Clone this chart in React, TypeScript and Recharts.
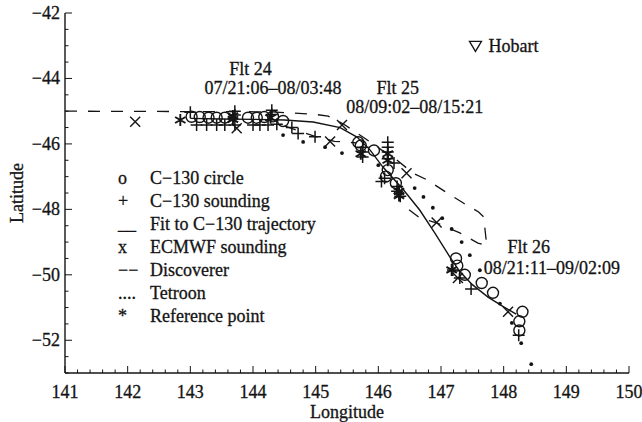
import React from 'react';
import { ComposedChart, Scatter, XAxis, YAxis } from 'recharts';

type Pt = [number, number];

// all positions are [longitude, latitude]
const c130Circles: Pt[] = [
    [143.02, -45.17], [143.15, -45.18], [143.29, -45.2], [143.42, -45.2], [143.55, -45.2],
    [143.92, -45.2], [144.06, -45.2], [144.18, -45.18], [144.32, -45.16], [144.48, -45.3],
    [145.68, -45.95], [145.72, -46.05], [145.93, -46.2], [146.15, -46.8], [146.12, -47.0], [146.28, -47.2],
    [147.24, -49.5], [147.26, -49.72], [147.38, -50.0], [147.65, -50.25], [147.83, -50.55],
    [148.3, -51.13], [148.25, -51.42], [148.25, -51.7],
];

const c130Soundings: Pt[] = [
    [143.0, -45.03], [143.1, -45.42], [143.26, -45.42], [143.42, -45.42], [143.55, -45.42],
    [143.71, -45.0], [143.71, -45.12], [143.71, -45.42], [144.0, -45.42], [144.11, -45.42],
    [144.24, -45.42], [144.38, -45.4], [144.3, -44.97], [144.3, -45.1], [144.62, -45.5],
    [144.72, -45.68], [144.99, -45.78],
    [145.75, -46.1], [145.75, -46.25], [145.75, -46.4], [146.15, -45.95], [146.15, -46.1],
    [146.15, -46.25], [146.15, -46.45], [146.25, -46.58], [146.1, -47.05], [146.05, -47.15],
    [146.3, -47.3], [146.3, -47.45], [146.35, -47.6],
    [147.19, -49.85], [147.3, -50.1], [147.48, -50.43], [148.24, -51.85],
];

const c130Fit: Pt[] = [
    [143.0, -45.22], [143.5, -45.24], [144.0, -45.25], [144.5, -45.27], [144.96, -45.33],
    [145.39, -45.5], [145.66, -45.79], [145.87, -46.19], [146.07, -46.7], [146.4, -47.4],
    [146.66, -48.02], [146.9, -48.72], [147.14, -49.45], [147.3, -49.9], [147.5, -50.3],
    [147.75, -50.68], [148.0, -50.98], [148.2, -51.2],
];

const ecmwfSoundings: Pt[] = [
    [142.12, -45.32], [143.74, -45.52], [145.42, -45.42], [145.23, -45.93],
    [146.45, -46.9], [146.93, -48.4], [147.27, -50.1], [148.07, -51.13],
];

const discovererOut: Pt[] = [
    [141.0, -45.0], [144.3, -45.02], [145.0, -45.1], [145.2, -45.15], [145.45, -45.4],
    [145.8, -45.85], [146.1, -46.25], [146.3, -46.5], [146.55, -46.89], [146.78, -47.1],
    [147.1, -47.5], [147.35, -47.8], [147.6, -48.08], [147.68, -48.23], [147.73, -49.1],
    [147.59, -49.03], [147.3, -48.72], [146.94, -48.42], [146.66, -48.26], [146.45, -47.95],
];

const discovererBack: Pt[] = [
    [144.5, -45.45], [145.0, -45.78], [145.3, -45.92], [145.65, -45.97],
];

const tetroon: Pt[] = [
    [144.48, -45.73], [144.8, -45.94], [145.15, -46.1], [145.42, -46.28], [146.0, -46.65],
    [146.58, -47.35], [146.72, -47.62], [146.87, -47.95], [147.02, -48.27], [147.17, -48.6],
    [147.33, -49.0], [147.46, -49.4], [147.62, -49.86], [147.94, -50.88], [148.13, -51.47],
    [148.28, -52.09], [148.44, -52.73],
];

const referencePoints: Pt[] = [
    [142.84, -45.27], [143.68, -45.15], [143.68, -45.25], [144.28, -45.2],
    [145.72, -46.3], [146.15, -46.3], [146.15, -46.5], [146.33, -47.45], [146.33, -47.58],
    [147.17, -49.85],
];

const hobart: Pt[] = [[147.55, -43.02]];

const flightNames = ['Flt 24', 'Flt 25', 'Flt 26'];
const flightTimes = ['07/21:06–08/03:48', '08/09:02–08/15:21', '08/21:11–09/02:09'];
const flightNameAt: Pt[] = [[143.96, -43.72], [146.31, -44.28], [148.4, -49.15]];
const flightTimeAt: Pt[] = [[144.32, -44.3], [146.58, -44.87], [148.77, -49.8]];

const lonTicks = [141, 142, 143, 144, 145, 146, 147, 148, 149, 150];
const latTicks = [-52, -50, -48, -46, -44, -42];

const legendSymbols = ['o', '+', '__', 'x', '−−', '....', '*'];
const legendLabels = [
    'C−130 circle', 'C−130 sounding', 'Fit to C−130 trajectory', 'ECMWF sounding',
    'Discoverer', 'Tetroon', 'Reference point',
];

const INK = '#141414';
const FONT = '"Liberation Serif", "Times New Roman", serif';
// slight outline so the serif text reads as heavy as the printed figure
const TEXT_STYLE = { fontFamily: FONT, fill: INK, stroke: INK, strokeWidth: 0.3 };

const rows = (pts: Pt[]) => pts.map(([lon, lat]) => ({ lon, lat }));
const labelRows = (pts: Pt[], texts: string[]) =>
    pts.map(([lon, lat], i) => ({ lon, lat, text: texts[i] }));

// minor ticks: 0.2 deg along longitude, 0.5 deg along latitude
const lonMinor: number[] = [];
for (let i = 0; i <= 45; i++) lonMinor.push(+(141 + i * 0.2).toFixed(1));
const latMinor: number[] = [];
for (let i = 0; i <= 22; i++) latMinor.push(-53 + i * 0.5);

const isMajorLon = (v: number) => lonTicks.some(t => Math.abs(t - v) < 1e-6);
const isMajorLat = (v: number) => latTicks.some(t => Math.abs(t - v) < 1e-6);
const fmt = (v: number) => (v < 0 ? '\u2212' + Math.abs(v) : String(v));

// eslint-disable-next-line @typescript-eslint/no-explicit-any
const BottomTick = ({ x, y, payload }: any) => {
    const major = isMajorLon(payload.value);
    return (
        <g>
            <line x1={x} y1={y} x2={x} y2={y - (major ? 7 : 3.5)} stroke={INK} strokeWidth={1} />
            {major && (
                <text x={x} y={y + 19} textAnchor="middle" dominantBaseline="central"
                    fontSize={18} {...TEXT_STYLE}>{payload.value}</text>
            )}
        </g>
    );
};

// eslint-disable-next-line @typescript-eslint/no-explicit-any
const TopTick = ({ x, y, payload }: any) => (
    <line x1={x} y1={y} x2={x} y2={y + (isMajorLon(payload.value) ? 7 : 3.5)} stroke={INK} strokeWidth={1} />
);

// eslint-disable-next-line @typescript-eslint/no-explicit-any
const LeftTick = ({ x, y, payload }: any) => {
    const major = isMajorLat(payload.value);
    return (
        <g>
            <line x1={x} y1={y} x2={x + (major ? 7 : 3.5)} y2={y} stroke={INK} strokeWidth={1} />
            {major && (
                <text x={x - 5} y={y} textAnchor="end" dominantBaseline="central"
                    fontSize={18} {...TEXT_STYLE}>{fmt(payload.value)}</text>
            )}
        </g>
    );
};

// eslint-disable-next-line @typescript-eslint/no-explicit-any
const RightTick = ({ x, y, payload }: any) => (
    <line x1={x} y1={y} x2={x - (isMajorLat(payload.value) ? 7 : 3.5)} y2={y} stroke={INK} strokeWidth={1} />
);

// marker shapes
// eslint-disable-next-line @typescript-eslint/no-explicit-any
const CircleMark = ({ cx, cy }: any) => (
    <circle cx={cx} cy={cy} r={5.5} fill="none" stroke={INK} strokeWidth={1.4} />
);
// eslint-disable-next-line @typescript-eslint/no-explicit-any
const PlusMark = ({ cx, cy }: any) => (
    <path d={`M${cx - 6},${cy}H${cx + 6}M${cx},${cy - 6}V${cy + 6}`} stroke={INK} strokeWidth={1.5} />
);
// eslint-disable-next-line @typescript-eslint/no-explicit-any
const CrossMark = ({ cx, cy }: any) => (
    <path d={`M${cx - 5},${cy - 5}L${cx + 5},${cy + 5}M${cx - 5},${cy + 5}L${cx + 5},${cy - 5}`}
        stroke={INK} strokeWidth={1.4} />
);
// eslint-disable-next-line @typescript-eslint/no-explicit-any
const StarMark = ({ cx, cy }: any) => (
    <path d={`M${cx},${cy - 6}V${cy + 6}M${cx - 5.2},${cy - 3}L${cx + 5.2},${cy + 3}M${cx - 5.2},${cy + 3}L${cx + 5.2},${cy - 3}`}
        stroke={INK} strokeWidth={1.9} />
);
// eslint-disable-next-line @typescript-eslint/no-explicit-any
const DotMark = ({ cx, cy }: any) => <circle cx={cx} cy={cy} r={1.9} fill={INK} />;
const NoMark = () => <g />;
// eslint-disable-next-line @typescript-eslint/no-explicit-any
const HobartMark = ({ cx, cy }: any) => (
    <g>
        <path d={`M${cx - 6},${cy - 5}H${cx + 6}L${cx},${cy + 5}Z`} fill="none" stroke={INK} strokeWidth={1.3} />
        <text x={cx + 13} y={cy} dominantBaseline="central" fontSize={18} {...TEXT_STYLE}>Hobart</text>
    </g>
);
// eslint-disable-next-line @typescript-eslint/no-explicit-any
const TextMark = ({ cx, cy, payload }: any) => (
    <text x={cx} y={cy} textAnchor="middle" dominantBaseline="central" fontSize={18} {...TEXT_STYLE}>
        {payload.text}
    </text>
);

const App: React.FC = () => {
    return (
        <div style={{ position: 'absolute', left: 0, top: 0, width: 642, height: 422, background: '#fff' }}>
            <ComposedChart width={642} height={422} margin={{ top: 13, right: 13, bottom: 0, left: 0 }}>
                <XAxis xAxisId="lon" type="number" dataKey="lon" domain={[141, 150]} ticks={lonMinor}
                    interval={0} height={49} tickSize={0} tickMargin={0} tickLine={false} tick={<BottomTick />}
                    axisLine={{ stroke: INK, strokeWidth: 1.4 }} allowDataOverflow />
                <XAxis xAxisId="top" orientation="top" type="number" dataKey="lon" domain={[141, 150]} ticks={lonMinor}
                    interval={0} height={0} tickSize={0} tickMargin={0} tickLine={false} tick={<TopTick />}
                    axisLine={{ stroke: INK, strokeWidth: 1.4 }} allowDataOverflow />
                <YAxis yAxisId="lat" type="number" dataKey="lat" domain={[-53, -42]} ticks={latMinor}
                    interval={0} width={65} tickSize={0} tickMargin={0} tickLine={false} tick={<LeftTick />}
                    axisLine={{ stroke: INK, strokeWidth: 1.4 }} allowDataOverflow />
                <YAxis yAxisId="right" orientation="right" type="number" dataKey="lat" domain={[-53, -42]} ticks={latMinor}
                    interval={0} width={0} tickSize={0} tickMargin={0} tickLine={false} tick={<RightTick />}
                    axisLine={{ stroke: INK, strokeWidth: 1.4 }} allowDataOverflow />

                <Scatter name="Discoverer" xAxisId="lon" yAxisId="lat" data={rows(discovererOut)} shape={NoMark}
                    line={{ stroke: INK, strokeWidth: 1.3, strokeDasharray: '12 11' }} lineType="joint" isAnimationActive={false} />
                <Scatter name="Discoverer" xAxisId="lon" yAxisId="lat" data={rows(discovererBack)} shape={NoMark}
                    line={{ stroke: INK, strokeWidth: 1.3, strokeDasharray: '12 11' }} lineType="joint" isAnimationActive={false} />
                <Scatter name="Fit to C-130 trajectory" xAxisId="lon" yAxisId="lat" data={rows(c130Fit)} shape={NoMark}
                    line={{ stroke: INK, strokeWidth: 1.4 }} lineType="joint" isAnimationActive={false} />
                <Scatter name="Tetroon" xAxisId="lon" yAxisId="lat" data={rows(tetroon)} shape={DotMark} isAnimationActive={false} />
                <Scatter name="C-130 circle" xAxisId="lon" yAxisId="lat" data={rows(c130Circles)} shape={CircleMark} isAnimationActive={false} />
                <Scatter name="C-130 sounding" xAxisId="lon" yAxisId="lat" data={rows(c130Soundings)} shape={PlusMark} isAnimationActive={false} />
                <Scatter name="ECMWF sounding" xAxisId="lon" yAxisId="lat" data={rows(ecmwfSoundings)} shape={CrossMark} isAnimationActive={false} />
                <Scatter name="Reference point" xAxisId="lon" yAxisId="lat" data={rows(referencePoints)} shape={StarMark} isAnimationActive={false} />
                <Scatter name="Hobart" xAxisId="lon" yAxisId="lat" data={rows(hobart)} shape={HobartMark} isAnimationActive={false} />
                <Scatter name="flights" xAxisId="lon" yAxisId="lat" data={labelRows(flightNameAt, flightNames)} shape={TextMark} isAnimationActive={false} />
                <Scatter name="times" xAxisId="lon" yAxisId="lat" data={labelRows(flightTimeAt, flightTimes)} shape={TextMark} isAnimationActive={false} />
            </ComposedChart>

            {/* axis titles and the in-plot key */}
            <svg width={642} height={422} style={{ position: 'absolute', left: 0, top: 0, pointerEvents: 'none' }}>
                <text transform="translate(17,193) rotate(-90)" textAnchor="middle" dominantBaseline="central"
                    fontSize={18} {...TEXT_STYLE}>Latitude</text>
                <text x={347} y={412} textAnchor="middle" dominantBaseline="central"
                    fontSize={18} {...TEXT_STYLE}>Longitude</text>
                {legendLabels.map((label, i) => (
                    <g key={label}>
                        <text x={118} y={178 + i * 23} dominantBaseline="central"
                            fontSize={18} {...TEXT_STYLE}>{legendSymbols[i]}</text>
                        <text x={150} y={178 + i * 23} dominantBaseline="central"
                            fontSize={18} {...TEXT_STYLE}>{label}</text>
                    </g>
                ))}
            </svg>
        </div>
    );
};

export default App;
